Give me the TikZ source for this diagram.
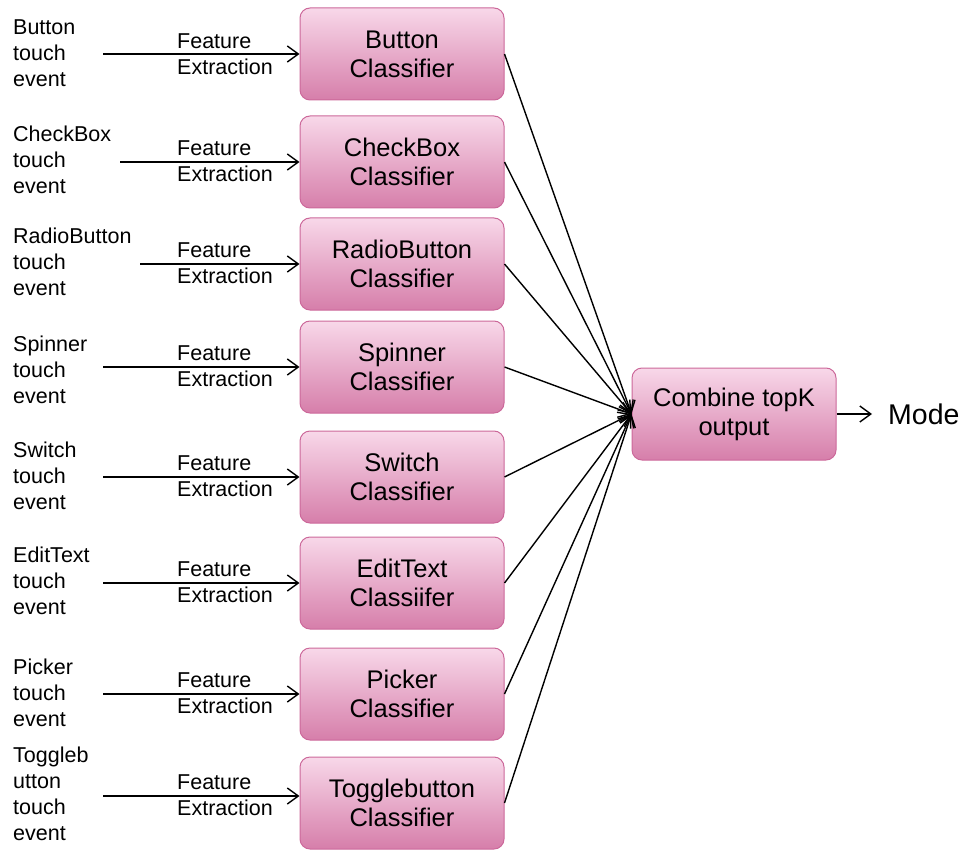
\documentclass[tikz,border=0pt]{standalone}
\usepackage{fontspec}
\setmainfont{Liberation Sans}
\usetikzlibrary{arrows.meta}
\definecolor{boxtop}{RGB}{248,216,233}
\definecolor{boxbot}{RGB}{214,126,170}
\definecolor{boxline}{RGB}{204,104,154}
\tikzset{
  clsbox/.style={draw=boxline, line width=1pt, rounded corners=10pt, top color=boxtop, bottom color=boxbot,
    minimum width=204pt, minimum height=92pt, align=center, inner sep=0pt,
    font=\fontsize{25.5}{29}\selectfont},
  inlabel/.style={anchor=west, align=left, inner sep=0pt, font=\fontsize{21.5}{26}\selectfont},
  felabel/.style={anchor=west, align=left, inner sep=0pt, font=\fontsize{21.5}{26}\selectfont},
  arr/.style={line width=1.4pt, -{Straight Barb[length=11pt,width=16pt,line width=1.4pt]}}
}
\begin{document}
\begin{tikzpicture}[x=1pt,y=-1pt]
\useasboundingbox (0,0) rectangle (965,850);
% classifier boxes
\node[clsbox] (b1) at (402,54) {Button\\Classifier};
\node[clsbox] (b2) at (402,162) {CheckBox\\Classifier};
\node[clsbox] (b3) at (402,264) {RadioButton\\Classifier};
\node[clsbox] (b4) at (402,367) {Spinner\\Classifier};
\node[clsbox] (b5) at (402,477) {Switch\\Classifier};
\node[clsbox] (b6) at (402,583) {EditText\\Classiifer};
\node[clsbox] (b7) at (402,694) {Picker\\Classifier};
\node[clsbox] (b8) at (402,803) {Togglebutton\\Classifier};
\node[clsbox] (comb) at (734,414) {Combine topK\\output};
\node[anchor=west, inner sep=0pt, font=\fontsize{28.5}{32}\selectfont] (mode) at (888,414) {Mode};
% input labels
\node[inlabel] (i1) at (13,53) {Button\\touch\\event};
\node[inlabel] (i2) at (13,160) {CheckBox\\touch\\event};
\node[inlabel] (i3) at (13,262) {RadioButton\\touch\\event};
\node[inlabel] (i4) at (13,370) {Spinner\\touch\\event};
\node[inlabel] (i5) at (13,476) {Switch\\touch\\event};
\node[inlabel] (i6) at (13,581) {EditText\\touch\\event};
\node[inlabel] (i7) at (13,693) {Picker\\touch\\event};
\node[inlabel] (i8) at (13,794) {Toggleb\\utton\\touch\\event};
% feature extraction labels
\foreach \n/\y in {1/54,2/161,3/263,4/366,5/476,6/582,7/693,8/795}{
  \node[felabel] (f\n) at (177,\y) {Feature\\Extraction};
}
% input arrows
\coordinate (s1) at (103,54);
\coordinate (s2) at (120,162);
\coordinate (s3) at (140,264);
\coordinate (s4) at (103,367);
\coordinate (s5) at (103,477);
\coordinate (s6) at (103,583);
\coordinate (s7) at (103,694);
\coordinate (s8) at (103,796);
\foreach \n in {1,...,8}{
  \draw[arr] (s\n) -- (s\n -| b\n.west);
}
% to combine
\foreach \n in {1,...,8}{
  \draw[arr] (b\n.east) -- (comb.west);
}
\coordinate (mend) at (872,414);
\draw[arr] (comb.east) -- (mend);
\end{tikzpicture}
\end{document}
